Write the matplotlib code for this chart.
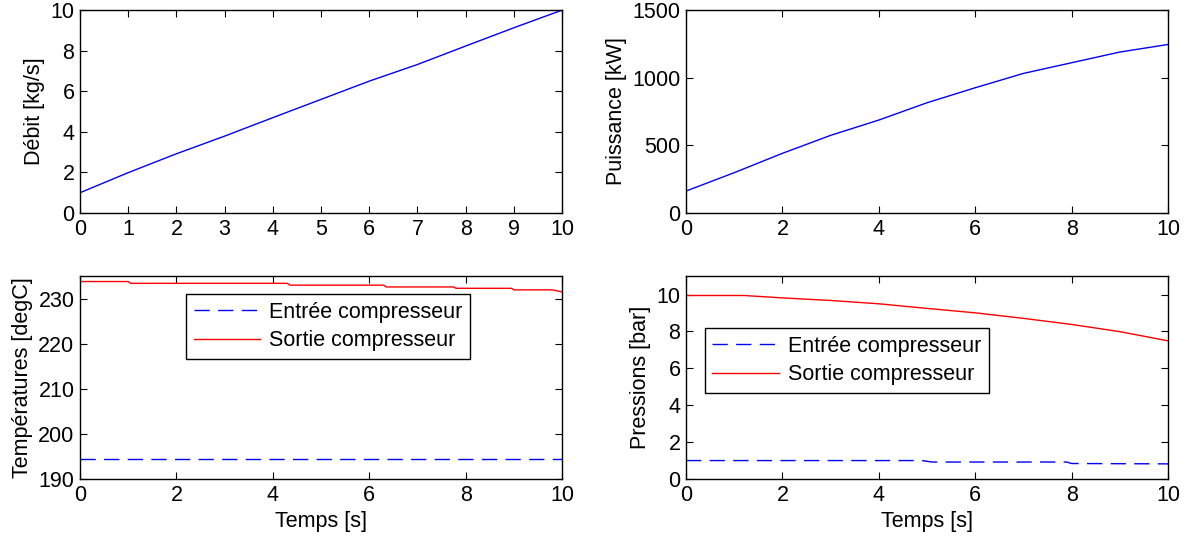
import numpy as np
import matplotlib.pyplot as plt

plt.rcParams['font.family'] = ['Liberation Sans', 'DejaVu Sans']
plt.rcParams['font.size'] = 15.5

# Débit (haut gauche)
t_debit = [0, 1, 2, 3, 4, 5, 6, 7, 8, 9, 10]
debit = [1.0, 1.99, 2.92, 3.79, 4.70, 5.60, 6.50, 7.32, 8.23, 9.13, 10.0]

# Puissance (haut droite)
t_puiss = [0, 1, 2, 3, 4, 5, 6, 7, 8, 9, 10]
puissance = [162, 298, 441, 574, 687, 815, 926, 1032, 1111, 1190, 1246]

# Températures (bas gauche)
t_temp = [0, 1.0, 1.05, 4.3, 4.35, 6.3, 6.35, 7.75, 7.8, 8.95, 9.0, 9.8, 10]
temp_sortie = [233.8, 233.8, 233.4, 233.4, 233.0, 233.0, 232.6, 232.6, 232.3, 232.3, 231.95, 231.95, 231.5]
t_temp_in = [0, 10]
temp_entree = [194.4, 194.4]

# Pressions (bas droite)
t_pres = [0, 1.2, 2, 3, 4, 5, 6, 7, 8, 9, 10]
pres_sortie = [9.95, 9.95, 9.82, 9.68, 9.5, 9.25, 9.01, 8.71, 8.38, 7.99, 7.49]
t_pres_in = [0, 4.9, 5.1, 7.9, 8.0, 10]
pres_entree = [1.0, 1.0, 0.92, 0.92, 0.84, 0.82]

fig = plt.figure(figsize=(12.02, 5.41), dpi=100)
L1, L2, W = 0.0666, 0.5707, 0.401
B1, B2, H = 0.6063, 0.1146, 0.375
dash = (0, (11, 6))

def style(ax):
    ax.tick_params(direction='in', top=True, right=True, length=5, width=0.8, pad=4)
    for s in ax.spines.values():
        s.set_linewidth(1.0)
    ax.set_xlim(0, 10)

ax1 = fig.add_axes([L1, B1, W, H])
ax1.plot(t_debit, debit, color='#0000ff', lw=1)
style(ax1)
ax1.set_ylim(0, 10)
ax1.set_xticks(range(0, 11))
ax1.set_yticks(range(0, 11, 2))
ax1.set_ylabel('Débit [kg/s]')

ax2 = fig.add_axes([L2, B1, W, H])
ax2.plot(t_puiss, puissance, color='#0000ff', lw=1)
style(ax2)
ax2.set_ylim(0, 1500)
ax2.set_xticks(range(0, 11, 2))
ax2.set_yticks([0, 500, 1000, 1500])
ax2.set_ylabel('Puissance [kW]')

ax3 = fig.add_axes([L1, B2, W, H])
ax3.plot(t_temp_in, temp_entree, color='#0000ff', lw=1, ls=dash, label='Entrée compresseur')
ax3.plot(t_temp, temp_sortie, color='#ff0000', lw=1, label='Sortie compresseur')
style(ax3)
ax3.set_ylim(190, 235)
ax3.set_xticks(range(0, 11, 2))
ax3.set_yticks(range(190, 231, 10))
ax3.set_ylabel('Températures [degC]')
ax3.set_xlabel('Temps [s]', labelpad=4)
leg = ax3.legend(loc='upper left', bbox_to_anchor=(0.22, 0.911), borderaxespad=0,
                 fancybox=False, edgecolor='black', framealpha=1, handlelength=3.1,
                 handletextpad=0.4, borderpad=0.35, labelspacing=0.35)
leg.get_frame().set_linewidth(1.0)

ax4 = fig.add_axes([L2, B2, W, H])
ax4.plot(t_pres_in, pres_entree, color='#0000ff', lw=1, ls=dash, label='Entrée compresseur')
ax4.plot(t_pres, pres_sortie, color='#ff0000', lw=1, label='Sortie compresseur')
style(ax4)
ax4.set_ylim(0, 11)
ax4.set_xticks(range(0, 11, 2))
ax4.set_yticks(range(0, 11, 2))
ax4.set_ylabel('Pressions [bar]')
ax4.set_xlabel('Temps [s]', labelpad=4)
leg = ax4.legend(loc='upper left', bbox_to_anchor=(0.039, 0.744), borderaxespad=0,
                 fancybox=False, edgecolor='black', framealpha=1, handlelength=3.1,
                 handletextpad=0.4, borderpad=0.35, labelspacing=0.35)
leg.get_frame().set_linewidth(1.0)

fig.savefig('out.png', dpi=100)
